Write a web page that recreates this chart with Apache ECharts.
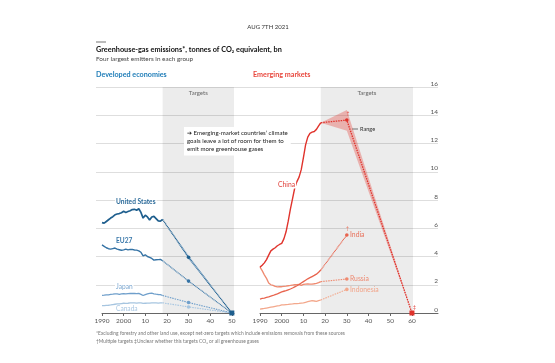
<!DOCTYPE html>
<html><head><meta charset="utf-8">
<script src="https://cdn.jsdelivr.net/npm/echarts@6/dist/echarts.min.js"></script>
<style>html,body{margin:0;padding:0;background:#fff}#c{width:555px;height:363px}</style>
</head><body><div id="c"></div>
<script>
// ---------- data ----------
const years = [1990,1991,1992,1993,1994,1995,1996,1997,1998,1999,2000,2001,2002,2003,2004,2005,2006,2007,2008,2009,2010,2011,2012,2013,2014,2015,2016,2017,2018];
const usValues =        [6.40,6.36,6.48,6.60,6.72,6.82,6.95,7.01,7.04,7.10,7.20,7.12,7.18,7.24,7.32,7.34,7.28,7.38,7.12,6.72,6.92,6.80,6.58,6.80,6.84,6.68,6.52,6.50,6.62];
const euValues =        [4.82,4.72,4.62,4.55,4.52,4.56,4.60,4.52,4.48,4.44,4.47,4.52,4.47,4.50,4.50,4.46,4.45,4.40,4.30,4.05,4.12,4.00,3.94,3.86,3.74,3.77,3.78,3.79,3.70];
const japanValues =     [1.25,1.26,1.28,1.29,1.32,1.33,1.35,1.35,1.32,1.35,1.37,1.35,1.37,1.38,1.38,1.38,1.37,1.39,1.32,1.24,1.30,1.35,1.39,1.41,1.36,1.33,1.31,1.30,1.24];
const canadaValues =    [0.52,0.52,0.54,0.55,0.57,0.60,0.62,0.64,0.65,0.67,0.69,0.68,0.69,0.71,0.72,0.71,0.70,0.72,0.71,0.68,0.69,0.70,0.70,0.72,0.72,0.71,0.70,0.71,0.72];
const chinaValues =     [3.25,3.38,3.55,3.78,4.10,4.40,4.52,4.62,4.76,4.85,4.93,5.25,5.75,6.50,7.35,8.10,8.85,9.30,9.62,10.15,11.00,11.90,12.45,12.72,12.80,12.85,13.00,13.25,13.47];
const indiaValues =     [0.99,1.03,1.06,1.10,1.14,1.19,1.24,1.30,1.36,1.43,1.50,1.54,1.58,1.64,1.70,1.77,1.85,1.93,2.02,2.12,2.22,2.32,2.42,2.50,2.58,2.66,2.75,2.88,3.04];
const russiaValues =    [3.25,3.00,2.70,2.45,2.12,2.00,1.95,1.88,1.85,1.86,1.86,1.88,1.90,1.93,1.95,1.98,2.00,2.01,2.03,1.96,2.02,2.05,2.06,2.04,2.05,2.07,2.10,2.15,2.22];
const indonesiaValues = [0.28,0.30,0.32,0.35,0.38,0.41,0.44,0.47,0.50,0.53,0.57,0.58,0.60,0.61,0.63,0.64,0.66,0.67,0.68,0.70,0.72,0.76,0.80,0.84,0.87,0.85,0.82,0.87,0.92];

// targets (years after the last observed year)
const devTargetYears = [2030, 2050];
const usTarget = [3.94, 0];
const euTarget = [2.26, 0];
const japanTarget = [0.74, 0];
const canadaTarget = [0.43, 0];
const chinaTargetYears = [2030, 2060];
const chinaTarget = [13.66, 0];
const emTargetYears = [2030];
const indiaTarget = [5.52];
const russiaTarget = [2.41];
const indonesiaTarget = [1.67];

// ranges
const chinaRangeYears = [2018, 2030, 2060];
const chinaRangeLow  = [13.47, 12.90, 0];
const chinaRangeHigh = [13.47, 14.37, 0];
const usRangeYears = [2018, 2030, 2050];
const usRangeLow  = [6.62, 3.80, 0];
const usRangeHigh = [6.62, 4.10, 0];

// target bands
const devBand = [2018, 2051];
const emBand = [2018, 2060.5];

// axis ticks
const devTicks = [1990,2000,2010,2020,2030,2040,2050];
const devTickLabels = ['1990','2000','10','20','30','40','50'];
const emTicks = [1990,2000,2010,2020,2030,2040,2050,2060];
const emTickLabels = ['1990','2000','10','20','30','40','50','60'];
const yMin = 0, yMax = 16, yStep = 2;

// ---------- styling ----------
const FONT = 'Lato, "Open Sans", sans-serif';
const C = {
  us: '#1f5f8e', eu: '#3573a5', japan: '#6f9fcb', canada: '#a6c5e0',
  china: '#e0332c', india: '#e8644e', russia: '#ef8a70', indonesia: '#f3a88c'
};

function hist(values) { return years.map((y, i) => [y, values[i]]); }
function target(values, tYears, tVals, sym) {
  const d = [{ value: [years[years.length - 1], values[values.length - 1]], symbol: 'none' }];
  tYears.forEach((y, i) => {
    const last = i === tYears.length - 1;
    d.push({ value: [y, tVals[i]], symbol: (sym && last) ? sym : (last && sym === null && tYears.length > 1 ? 'none' : 'circle'),
             symbolSize: (sym && last) ? 5 : 3.6 });
  });
  return d;
}
function lineSeries(idx, data, color, width) {
  return { type: 'line', xAxisIndex: idx, yAxisIndex: idx, data, showSymbol: false, symbol: 'none',
    lineStyle: { color, width }, itemStyle: { color }, silent: true, animation: false, z: 3 };
}
function targetSeries(idx, data, color, width, dash) {
  return { type: 'line', xAxisIndex: idx, yAxisIndex: idx, data, showSymbol: true,
    lineStyle: { color, width, type: dash || [1.5, 1] }, itemStyle: { color }, silent: true, animation: false, z: 4 };
}
function rangeSeries(idx, ry, lo, hi, fill) {
  return { type: 'custom', xAxisIndex: idx, yAxisIndex: idx, silent: true, animation: false, z: 2,
    data: [[ry[0], lo[0]]],
    renderItem: (params, api) => {
      const pts = [];
      for (let i = 0; i < ry.length; i++) pts.push(api.coord([ry[i], hi[i]]));
      for (let i = ry.length - 1; i >= 0; i--) pts.push(api.coord([ry[i], lo[i]]));
      return { type: 'polygon', shape: { points: pts }, style: { fill } };
    } };
}
function bandSeries(idx, band) {
  return { type: 'line', xAxisIndex: idx, yAxisIndex: idx, data: [], silent: true, animation: false,
    markArea: { silent: true, itemStyle: { color: 'rgba(0,0,0,0.075)' },
      label: { show: true, position: 'insideTop', distance: 3, color: '#666', fontSize: 6, fontFamily: FONT },
      data: [[{ xAxis: band[0], name: 'Targets' }, { xAxis: band[1] }]] } };
}
function xAxis(idx, min, max, ticks, labels) {
  return { type: 'value', gridIndex: idx, min, max,
    axisLine: { show: true, lineStyle: { color: '#666', width: 1 } },
    axisTick: { show: true, customValues: ticks, length: 3, lineStyle: { color: '#666' } },
    axisLabel: { customValues: ticks, formatter: v => labels[ticks.indexOf(v)], color: '#555', fontSize: 6.5, fontFamily: FONT, margin: 4 },
    splitLine: { show: false } };
}
function hiddenY(idx) { return { type: 'value', gridIndex: idx, min: yMin, max: yMax, show: false }; }

function txt(text, x, y, size, color, weight, align, bg) {
  const style = { text, fill: color, font: `${weight || 'normal'} ${size}px ${FONT}`, align: align || 'left', verticalAlign: 'middle' };
  if (bg) { style.backgroundColor = '#fff'; style.padding = [0, 1, 0, 1]; }
  return { type: 'text', x, y, silent: true, z: 40, style };
}

const chart = echarts.init(document.getElementById('c'), null, { renderer: 'canvas' });
chart.setOption({
  animation: false,
  backgroundColor: '#fff',
  grid: [
    { left: 96, right: 117, top: 87, bottom: 50 },
    { left: 102, width: 132, top: 87, bottom: 50 },
    { left: 260, width: 178, top: 87, bottom: 50 }
  ],
  xAxis: [
    { type: 'value', gridIndex: 0, min: 0, max: 1, show: false },
    xAxis(1, 1990, 2051, devTicks, devTickLabels),
    xAxis(2, 1990, 2072, emTicks, emTickLabels)
  ],
  yAxis: [
    { type: 'value', gridIndex: 0, min: yMin, max: yMax, interval: yStep, position: 'right',
      axisLine: { show: false }, axisTick: { show: false },
      axisLabel: { inside: true, verticalAlign: 'bottom', margin: 0, color: '#555', fontSize: 6.5, fontFamily: FONT },
      splitLine: { show: true, showMinLine: false, lineStyle: { color: '#d6d6d6', width: 0.8 } } },
    hiddenY(1), hiddenY(2)
  ],
  series: [
    bandSeries(1, devBand),
    bandSeries(2, emBand),
    rangeSeries(1, usRangeYears, usRangeLow, usRangeHigh, 'rgba(90,150,205,0.28)'),
    rangeSeries(2, chinaRangeYears, chinaRangeLow, chinaRangeHigh, 'rgba(230,70,60,0.35)'),
    lineSeries(1, hist(canadaValues), C.canada, 1.3),
    lineSeries(1, hist(japanValues), C.japan, 1.3),
    lineSeries(1, hist(euValues), C.eu, 1.4),
    lineSeries(1, hist(usValues), C.us, 1.7),
    targetSeries(1, target(canadaValues, devTargetYears, canadaTarget, null), C.canada, 1.1),
    targetSeries(1, target(japanValues, devTargetYears, japanTarget, null), C.japan, 1.1),
    targetSeries(1, target(euValues, devTargetYears, euTarget, null), C.eu, 1.1, [1, 0.6]),
    targetSeries(1, target(usValues, devTargetYears, usTarget, 'rect'), C.us, 1.3, [1, 0.6]),
    lineSeries(2, hist(indonesiaValues), C.indonesia, 1.3),
    lineSeries(2, hist(russiaValues), C.russia, 1.3),
    lineSeries(2, hist(indiaValues), C.india, 1.3),
    lineSeries(2, hist(chinaValues), C.china, 1.4),
    targetSeries(2, target(indonesiaValues, emTargetYears, indonesiaTarget, null), C.indonesia, 1.1),
    targetSeries(2, target(russiaValues, emTargetYears, russiaTarget, null), C.russia, 1.1),
    targetSeries(2, target(indiaValues, emTargetYears, indiaTarget, null), C.india, 1.1, [1, 0.5]),
    targetSeries(2, target(chinaValues, chinaTargetYears, chinaTarget, 'rect'), C.china, 1.3)
  ],
  graphic: [
    txt('AUG 7TH 2021', 268, 27, 6, '#333', 'normal', 'center'),
    { type: 'line', shape: { x1: 96, y1: 42, x2: 106, y2: 42 }, style: { stroke: '#777', lineWidth: 1 }, silent: true },
    txt('Greenhouse-gas emissions*, tonnes of CO\u2082 equivalent, bn', 96, 49.5, 7.3, '#111', 'bold'),
    txt('Four largest emitters in each group', 96, 58.5, 6.4, '#444'),
    txt('Developed economies', 96, 74.5, 7.2, '#1f7db8', 'bold'),
    txt('Emerging markets', 253, 74.5, 7.2, '#e8473d', 'bold'),
    { type: 'text', x: 184, y: 127, silent: true, z: 50,
      style: { text: '\u2794 Emerging-market countries\u2019 climate\ngoals leave a lot of room for them to\nemit more greenhouse gases',
        fill: '#222', font: `normal 6.1px ${FONT}`, lineHeight: 8.2, backgroundColor: '#fff', padding: [2, 3, 2, 3] } },
    txt('United States', 115, 202, 6.6, '#2b6a99', 'bold', 'left', true),
    txt('EU27', 115, 241, 6.6, '#3a78aa', 'bold', 'left', true),
    txt('Japan', 115, 287, 6.6, '#7ba6cf', 'normal', 'left', true),
    txt('Canada', 115, 309, 6.6, '#a9c7e2', 'normal', 'left', true),
    txt('China', 277, 185, 6.8, '#e0403a', 'normal', 'left', true),
    txt('India', 350, 235, 6.8, '#e8705a', 'normal', 'left'),
    txt('Russia', 350, 279, 6.8, '#ee8a72', 'normal', 'left'),
    txt('Indonesia', 350, 289.5, 6.8, '#f2a58a', 'normal', 'left'),
    { type: 'line', shape: { x1: 352, y1: 129, x2: 358, y2: 129 }, style: { stroke: '#555', lineWidth: 0.8 }, silent: true },
    txt('Range', 360, 129, 5.6, '#333', 'normal'),
    txt('\u2020', 346.5, 113, 5, '#e0403a'),
    txt('\u2020', 346, 228.5, 5, '#e8705a'),
    txt('\u2021', 413, 307, 5, '#e0403a'),
    txt('*Excluding forestry and other land use, except net-zero targets which include emissions removals from these sources', 96, 333, 4.9, '#777'),
    txt('\u2020Multiple targets \u2021Unclear whether this targets CO\u2082 or all greenhouse gases', 96, 341, 4.9, '#777')
  ]
});
</script></body></html>
